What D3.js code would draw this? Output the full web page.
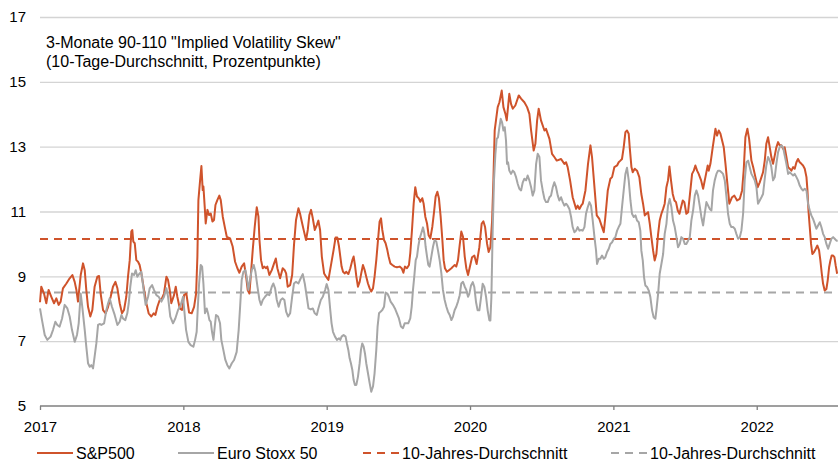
<!DOCTYPE html>
<html>
<head>
<meta charset="utf-8">
<script src="https://cdn.jsdelivr.net/npm/d3@7"></script>
<style>
  body { margin: 0; background: #fff; }
  svg { display: block; font-family: "Liberation Sans", Arial, sans-serif; }
</style>
</head>
<body>
<svg id="chart" width="838" height="463"></svg>
<script>
// time positions are decimal years, values in percentage points
const spxDates = [
  2017.000, 2017.009, 2017.028, 2017.044, 2017.060, 2017.079, 2017.098, 2017.114, 2017.130, 2017.144,
  2017.160, 2017.184, 2017.207, 2017.226, 2017.242, 2017.254, 2017.265, 2017.284, 2017.300, 2017.312,
  2017.323, 2017.335, 2017.351, 2017.365, 2017.381, 2017.400, 2017.412, 2017.423, 2017.440, 2017.458,
  2017.475, 2017.493, 2017.509, 2017.526, 2017.540, 2017.556, 2017.572, 2017.586, 2017.602, 2017.614,
  2017.626, 2017.637, 2017.644, 2017.651, 2017.661, 2017.672, 2017.684, 2017.695, 2017.707, 2017.726,
  2017.742, 2017.758, 2017.777, 2017.793, 2017.805, 2017.819, 2017.835, 2017.851, 2017.865, 2017.882,
  2017.893, 2017.905, 2017.916, 2017.935, 2017.947, 2017.958, 2017.975, 2017.991, 2018.005, 2018.021,
  2018.040, 2018.058, 2018.075, 2018.089, 2018.098, 2018.105, 2018.117, 2018.126, 2018.135, 2018.140,
  2018.149, 2018.156, 2018.168, 2018.179, 2018.191, 2018.203, 2018.214, 2018.224, 2018.237, 2018.251,
  2018.261, 2018.275, 2018.291, 2018.303, 2018.326, 2018.344, 2018.361, 2018.377, 2018.391, 2018.407,
  2018.424, 2018.438, 2018.449, 2018.461, 2018.470, 2018.484, 2018.498, 2018.512, 2018.524, 2018.531,
  2018.542, 2018.554, 2018.565, 2018.577, 2018.586, 2018.600, 2018.617, 2018.633, 2018.645, 2018.656,
  2018.675, 2018.693, 2018.707, 2018.717, 2018.728, 2018.745, 2018.759, 2018.772, 2018.786, 2018.803,
  2018.814, 2018.826, 2018.842, 2018.856, 2018.868, 2018.879, 2018.891, 2018.903, 2018.917, 2018.931,
  2018.942, 2018.954, 2018.966, 2018.982, 2018.996, 2019.012,
  2019.032, 2019.048, 2019.062, 2019.074, 2019.086, 2019.095, 2019.104, 2019.114, 2019.125, 2019.137,
  2019.151, 2019.165, 2019.179, 2019.188, 2019.197, 2019.207, 2019.218, 2019.230, 2019.241, 2019.253,
  2019.265, 2019.276, 2019.288, 2019.300, 2019.311, 2019.323, 2019.334, 2019.346, 2019.358, 2019.369,
  2019.379, 2019.388, 2019.400, 2019.411, 2019.423, 2019.432, 2019.444, 2019.458, 2019.474, 2019.490,
  2019.509, 2019.523, 2019.535, 2019.546, 2019.560, 2019.574, 2019.583, 2019.595, 2019.607, 2019.618,
  2019.630, 2019.642, 2019.653, 2019.667, 2019.676, 2019.688, 2019.700, 2019.711, 2019.723, 2019.737,
  2019.749, 2019.760, 2019.772, 2019.783, 2019.795, 2019.807, 2019.816, 2019.825, 2019.839, 2019.853,
  2019.870, 2019.881, 2019.893, 2019.904, 2019.916, 2019.928, 2019.939, 2019.951, 2019.963, 2019.974,
  2019.986,
  2020.014, 2020.030, 2020.046, 2020.065, 2020.081, 2020.093, 2020.105, 2020.119, 2020.130, 2020.142,
  2020.154, 2020.163, 2020.172, 2020.181, 2020.193, 2020.205, 2020.221, 2020.233, 2020.247, 2020.256,
  2020.274, 2020.286, 2020.298, 2020.316, 2020.340, 2020.356, 2020.379, 2020.398, 2020.414, 2020.426,
  2020.444, 2020.456, 2020.468, 2020.479, 2020.495, 2020.519, 2020.530, 2020.554, 2020.572, 2020.588,
  2020.605, 2020.635, 2020.658, 2020.670, 2020.681, 2020.698, 2020.716, 2020.740, 2020.751, 2020.763,
  2020.775, 2020.786, 2020.805, 2020.823, 2020.840, 2020.851, 2020.868, 2020.884, 2020.902, 2020.921,
  2020.933, 2020.944, 2020.961, 2020.979, 2020.991, 2021.007,
  2021.026, 2021.037, 2021.049, 2021.060, 2021.072, 2021.084, 2021.095, 2021.107, 2021.114, 2021.126,
  2021.135, 2021.149, 2021.165, 2021.181, 2021.195, 2021.207, 2021.219, 2021.230, 2021.242, 2021.254,
  2021.265, 2021.277, 2021.288, 2021.300, 2021.312, 2021.323, 2021.335, 2021.347, 2021.358, 2021.370,
  2021.381, 2021.391, 2021.402, 2021.414, 2021.426, 2021.437, 2021.449, 2021.461, 2021.472, 2021.484,
  2021.495, 2021.509, 2021.521, 2021.537, 2021.549, 2021.561, 2021.572, 2021.584, 2021.595, 2021.612,
  2021.626, 2021.642, 2021.658, 2021.665, 2021.677, 2021.693, 2021.712, 2021.723, 2021.735, 2021.747,
  2021.770, 2021.782, 2021.793, 2021.809, 2021.828, 2021.844, 2021.863, 2021.882, 2021.898, 2021.909,
  2021.921, 2021.935, 2021.947, 2021.963, 2021.975, 2021.991, 2022.007,
  2022.021, 2022.033, 2022.044, 2022.056, 2022.067, 2022.079, 2022.091, 2022.102, 2022.114, 2022.126,
  2022.137, 2022.149, 2022.160, 2022.172, 2022.184, 2022.195, 2022.207, 2022.219, 2022.230, 2022.242,
  2022.254, 2022.265, 2022.277, 2022.288, 2022.300, 2022.312, 2022.323, 2022.335, 2022.347, 2022.354,
  2022.361, 2022.370, 2022.379, 2022.388, 2022.400, 2022.412, 2022.423, 2022.435, 2022.444, 2022.454,
  2022.463, 2022.474, 2022.486, 2022.495, 2022.505, 2022.514, 2022.523, 2022.533, 2022.542, 2022.551,
  2022.561
];
const spxValues = [
  8.20, 8.68, 8.47, 8.17, 8.58, 8.37, 8.17, 8.32, 8.12, 8.22,
  8.63, 8.78, 8.94, 9.04, 8.83, 8.58, 8.22, 9.04, 9.40, 9.19,
  8.58, 8.06, 7.76, 7.96, 8.68, 8.99, 9.01, 8.47, 7.96, 7.86,
  8.06, 8.37, 8.68, 8.83, 8.63, 8.17, 7.86, 7.96, 8.37, 8.99,
  9.50, 10.38, 10.43, 10.07, 10.02, 9.50, 9.45, 9.35, 9.09, 8.58,
  8.17, 7.86, 7.76, 7.86, 7.81, 8.06, 8.27, 8.32, 8.47, 8.99,
  8.89, 8.58, 8.17, 8.42, 8.68, 8.37, 8.01, 7.96, 8.42, 8.47,
  7.88, 7.86, 8.06, 8.47, 9.61, 11.35, 11.97, 12.40, 11.66, 11.77,
  11.15, 10.63, 11.05, 10.89, 10.94, 10.69, 10.74, 11.20, 11.35, 11.49,
  11.35, 10.84, 10.48, 10.22, 10.17, 9.92, 9.45, 9.25, 9.11, 9.30,
  9.40, 8.99, 8.58, 8.47, 8.99, 9.81, 10.53, 11.13, 10.84, 10.12,
  9.50, 9.25, 9.30, 9.25, 9.30, 9.04, 9.19, 9.40, 9.55, 9.25,
  8.94, 9.25, 9.19, 9.09, 8.68, 8.73, 9.04, 9.97, 10.74, 11.10,
  10.94, 10.69, 10.38, 10.12, 10.43, 10.89, 11.05, 10.79, 10.43, 10.58,
  10.72, 10.43, 9.61, 9.09, 8.99, 8.89,
  9.40, 9.81, 10.20, 10.20, 9.92, 9.61, 9.30, 9.14, 9.09, 9.14,
  9.07, 9.25, 9.50, 9.61, 9.35, 8.99, 8.68, 8.83, 9.09, 9.35,
  9.19, 8.99, 8.78, 8.63, 8.53, 8.63, 8.99, 9.50, 10.12, 10.69,
  10.79, 10.43, 10.12, 10.02, 9.81, 9.61, 9.40, 9.35, 9.30, 9.28,
  9.30, 9.25, 9.11, 9.30, 9.25, 9.35, 9.71, 10.43, 11.25, 11.75,
  11.46, 11.41, 11.30, 11.41, 11.25, 10.84, 10.63, 10.27, 10.17, 10.53,
  10.99, 11.46, 11.61, 11.41, 10.84, 10.12, 9.50, 9.25, 9.14, 9.19,
  9.25, 9.30, 9.35, 9.30, 9.50, 9.97, 10.38, 10.22, 9.61, 9.25,
  9.04,
  9.59, 9.64, 9.38, 9.90, 10.62, 10.70, 10.52, 10.00, 9.75, 9.90,
  10.72, 11.96, 13.50, 13.81, 14.22, 14.37, 14.73, 14.22, 14.01, 13.81,
  14.63, 14.32, 14.17, 14.27, 14.58, 14.48, 14.37, 14.22, 14.01, 13.50,
  12.88, 13.09, 13.81, 14.17, 13.81, 13.50, 13.55, 13.24, 12.78, 12.68,
  12.57, 12.62, 12.47, 12.52, 12.37, 11.96, 11.44, 11.08, 11.18, 11.08,
  11.18, 11.24, 11.65, 12.47, 13.04, 12.68, 11.75, 10.88, 10.77, 10.52,
  10.36, 10.83, 11.65, 12.01, 12.06, 12.37,
  12.42, 12.52, 12.57, 12.62, 12.98, 13.45, 13.50, 13.40, 12.98, 12.37,
  12.21, 12.32, 12.26, 12.06, 11.54, 11.24, 10.88, 10.93, 10.98, 10.62,
  10.21, 9.80, 9.49, 9.69, 10.31, 10.72, 10.93, 11.08, 11.24, 11.75,
  11.96, 12.39, 11.96, 11.54, 11.34, 11.29, 11.03, 10.93, 11.13, 11.34,
  11.29, 10.93, 10.98, 11.65, 12.16, 12.26, 12.42, 12.26, 12.16, 11.96,
  11.70, 12.06, 12.42, 12.26, 12.47, 12.98, 13.55, 13.34, 13.50, 13.40,
  12.98, 12.47, 11.96, 11.24, 11.44, 11.49, 11.34, 11.39, 11.65, 12.26,
  13.29, 13.55, 13.24, 12.57, 12.37, 12.06, 11.75,
  11.90, 12.06, 12.21, 12.57, 13.09, 13.29, 12.98, 12.68, 12.47, 12.73,
  12.98, 13.14, 13.04, 13.04, 12.93, 12.98, 12.68, 12.37, 12.32, 12.26,
  12.37, 12.32, 12.52, 12.62, 12.52, 12.47, 12.42, 12.32, 12.06, 11.65,
  11.03, 10.52, 10.00, 9.69, 9.75, 9.85, 9.95, 9.80, 9.49, 9.08,
  8.77, 8.56, 8.61, 8.87, 9.28, 9.49, 9.64, 9.64, 9.59, 9.33,
  9.08
];

const stoxxDates = [
  2017.000, 2017.014, 2017.033, 2017.051, 2017.074, 2017.091, 2017.107, 2017.121, 2017.137, 2017.154,
  2017.172, 2017.191, 2017.207, 2017.223, 2017.242, 2017.258, 2017.270, 2017.284, 2017.295, 2017.312,
  2017.323, 2017.335, 2017.347, 2017.358, 2017.370, 2017.381, 2017.393, 2017.405, 2017.416, 2017.428,
  2017.447, 2017.463, 2017.475, 2017.486, 2017.502, 2017.521, 2017.540, 2017.556, 2017.568, 2017.579,
  2017.595, 2017.609, 2017.619, 2017.630, 2017.642, 2017.656, 2017.668, 2017.679, 2017.695, 2017.707,
  2017.714, 2017.726, 2017.737, 2017.754, 2017.765, 2017.782, 2017.795, 2017.812, 2017.828, 2017.847,
  2017.865, 2017.882, 2017.893, 2017.909, 2017.928, 2017.944, 2017.963, 2017.982, 2017.998,
  2018.019, 2018.035, 2018.051, 2018.070, 2018.082, 2018.093, 2018.100, 2018.110, 2018.121, 2018.131,
  2018.140, 2018.151, 2018.163, 2018.172, 2018.182, 2018.191, 2018.200, 2018.210, 2018.219, 2018.228,
  2018.242, 2018.256, 2018.265, 2018.279, 2018.293, 2018.307, 2018.321, 2018.338, 2018.354, 2018.372,
  2018.386, 2018.396, 2018.407, 2018.419, 2018.433, 2018.442, 2018.454, 2018.465, 2018.477, 2018.491,
  2018.503, 2018.517, 2018.531, 2018.542, 2018.554, 2018.570, 2018.586, 2018.600, 2018.617, 2018.628,
  2018.640, 2018.652, 2018.665, 2018.679, 2018.693, 2018.705, 2018.717, 2018.731, 2018.745, 2018.759,
  2018.772, 2018.786, 2018.803, 2018.819, 2018.833, 2018.847, 2018.861, 2018.873, 2018.889, 2018.903,
  2018.917, 2018.931, 2018.942, 2018.959, 2018.973, 2018.989, 2019.000, 2019.012,
  2019.025, 2019.034, 2019.044, 2019.058, 2019.072, 2019.086, 2019.095, 2019.104, 2019.118, 2019.132,
  2019.141, 2019.151, 2019.160, 2019.169, 2019.179, 2019.188, 2019.197, 2019.207, 2019.218, 2019.230,
  2019.239, 2019.248, 2019.258, 2019.267, 2019.276, 2019.288, 2019.300, 2019.311, 2019.323, 2019.334,
  2019.346, 2019.355, 2019.365, 2019.376, 2019.388, 2019.400, 2019.411, 2019.423, 2019.434, 2019.446,
  2019.462, 2019.476, 2019.490, 2019.504, 2019.518, 2019.532, 2019.544, 2019.556, 2019.569, 2019.583,
  2019.593, 2019.602, 2019.611, 2019.621, 2019.630, 2019.639, 2019.649, 2019.660, 2019.672, 2019.681,
  2019.690, 2019.700, 2019.709, 2019.718, 2019.730, 2019.742, 2019.753, 2019.765, 2019.776, 2019.788,
  2019.800, 2019.811, 2019.823, 2019.835, 2019.846, 2019.858, 2019.870, 2019.881, 2019.893, 2019.904,
  2019.916, 2019.928, 2019.939, 2019.951, 2019.963, 2019.974, 2019.986,
  2019.995, 2020.007, 2020.019, 2020.030, 2020.042, 2020.053, 2020.065, 2020.077, 2020.088, 2020.100,
  2020.112, 2020.123, 2020.135, 2020.142, 2020.149, 2020.158, 2020.167, 2020.177, 2020.186, 2020.195,
  2020.205, 2020.214, 2020.223, 2020.233, 2020.242, 2020.251, 2020.258, 2020.265, 2020.274, 2020.286,
  2020.298, 2020.309, 2020.321, 2020.333, 2020.344, 2020.356, 2020.368, 2020.379, 2020.391, 2020.402,
  2020.414, 2020.426, 2020.437, 2020.449, 2020.461, 2020.472, 2020.484, 2020.495, 2020.507, 2020.519,
  2020.530, 2020.542, 2020.554, 2020.565, 2020.577, 2020.588, 2020.600, 2020.612, 2020.623, 2020.635,
  2020.647, 2020.658, 2020.670, 2020.681, 2020.693, 2020.705, 2020.716, 2020.728, 2020.740, 2020.751,
  2020.763, 2020.775, 2020.786, 2020.798, 2020.809, 2020.821, 2020.833, 2020.844, 2020.856, 2020.868,
  2020.879, 2020.886, 2020.898, 2020.909, 2020.921, 2020.933, 2020.944, 2020.956, 2020.968, 2020.979,
  2020.991, 2021.003, 2021.014,
  2021.026, 2021.037, 2021.049, 2021.060, 2021.072, 2021.084, 2021.095, 2021.107, 2021.119, 2021.130,
  2021.142, 2021.154, 2021.165, 2021.177, 2021.188, 2021.195, 2021.205, 2021.214, 2021.223, 2021.235,
  2021.247, 2021.258, 2021.270, 2021.281, 2021.293, 2021.300, 2021.312, 2021.323, 2021.335, 2021.347,
  2021.358, 2021.370, 2021.381, 2021.393, 2021.405, 2021.416, 2021.428, 2021.440, 2021.451, 2021.463,
  2021.474, 2021.486, 2021.498, 2021.509, 2021.521, 2021.533, 2021.544, 2021.556, 2021.568, 2021.579,
  2021.591, 2021.602, 2021.614, 2021.626, 2021.637, 2021.649, 2021.661, 2021.672, 2021.684, 2021.695,
  2021.707, 2021.719, 2021.730, 2021.742, 2021.754, 2021.765, 2021.777, 2021.789, 2021.800, 2021.812,
  2021.823, 2021.835, 2021.847, 2021.858, 2021.870, 2021.882, 2021.893, 2021.905, 2021.916, 2021.928,
  2021.940, 2021.951, 2021.963, 2021.975, 2021.986, 2021.998, 2022.009,
  2022.021, 2022.033, 2022.044, 2022.056, 2022.067, 2022.079, 2022.091, 2022.102, 2022.114, 2022.126,
  2022.137, 2022.149, 2022.160, 2022.172, 2022.184, 2022.195, 2022.207, 2022.219, 2022.230, 2022.242,
  2022.254, 2022.265, 2022.277, 2022.288, 2022.300, 2022.312, 2022.323, 2022.335, 2022.347, 2022.358,
  2022.370, 2022.381, 2022.393, 2022.405, 2022.416, 2022.428, 2022.440, 2022.451, 2022.463, 2022.474,
  2022.486, 2022.498, 2022.509, 2022.521, 2022.533, 2022.544, 2022.556, 2022.565
];
const stoxxValues = [
  8.01, 7.65, 7.19, 7.04, 7.14, 7.35, 7.60, 7.50, 7.45, 7.70,
  8.12, 8.01, 7.76, 7.35, 6.98, 7.19, 7.55, 8.47, 8.06, 7.35,
  6.83, 6.32, 6.21, 6.26, 6.16, 6.52, 6.93, 7.50, 7.53, 7.50,
  7.55, 7.96, 8.17, 8.32, 8.06, 7.81, 7.50, 7.60, 7.81, 7.70,
  7.65, 7.86, 8.17, 8.68, 9.09, 9.04, 9.19, 8.99, 9.09, 9.14,
  8.89, 8.47, 8.12, 8.37, 8.63, 8.73, 8.58, 8.42, 8.37, 8.22,
  8.37, 8.63, 8.37, 7.76, 7.55, 7.70, 7.96, 8.12, 8.37,
  7.35, 6.98, 6.88, 6.83, 7.04, 7.29, 7.96, 8.78, 9.35, 9.30,
  8.78, 7.86, 8.01, 7.86, 7.65, 7.60, 7.29, 7.04, 7.45, 7.81,
  7.76, 7.55, 7.04, 6.73, 6.42, 6.26, 6.16, 6.32, 6.42, 6.67,
  7.35, 8.06, 8.89, 9.14, 9.19, 8.99, 8.58, 8.89, 9.19, 9.35,
  9.14, 8.68, 8.27, 8.12, 8.27, 8.37, 8.45, 8.42, 8.68, 8.78,
  8.63, 8.27, 8.06, 8.27, 8.32, 8.27, 7.91, 7.76, 7.86, 8.37,
  8.78, 8.83, 8.78, 8.94, 9.07, 8.78, 8.37, 8.01, 7.98, 8.01,
  7.86, 7.81, 8.01, 8.27, 8.37, 8.58, 8.76, 8.58,
  7.96, 7.55, 7.29, 7.14, 7.04, 7.09, 7.04, 7.14, 7.19, 7.14,
  6.93, 6.73, 6.47, 6.32, 6.11, 5.80, 5.65, 5.65, 5.90, 6.32,
  6.73, 6.93, 6.83, 6.62, 6.32, 6.01, 5.70, 5.44, 5.60, 6.01,
  6.73, 7.45, 7.86, 7.91, 7.96, 8.06, 8.50, 8.47, 8.37, 8.22,
  8.12, 8.01, 7.86, 7.70, 7.45, 7.40, 7.55, 7.55, 7.55, 7.70,
  8.06, 8.58, 8.99, 9.50, 9.61, 9.92, 10.17, 10.33, 10.51, 10.33,
  9.92, 9.61, 9.35, 9.30, 9.61, 9.92, 10.12, 10.07, 9.81, 9.50,
  9.09, 8.58, 8.27, 8.06, 7.91, 7.81, 7.65, 7.76, 7.96, 8.06,
  8.22, 8.42, 8.78, 8.83, 8.68, 8.58, 8.37,
  8.46, 8.72, 8.82, 8.67, 8.20, 7.95, 7.95, 8.36, 8.77, 8.67,
  8.36, 7.95, 7.64, 7.64, 8.36, 10.41, 11.96, 12.78, 13.24, 13.29,
  13.60, 13.86, 13.76, 13.50, 13.60, 13.19, 12.47, 12.52, 12.26, 12.16,
  12.26, 12.21, 12.06, 11.85, 11.70, 11.65, 11.90, 12.01, 11.96, 12.11,
  11.96, 11.75, 11.49, 11.65, 12.47, 12.78, 12.68, 11.96, 11.65, 11.39,
  11.29, 11.29, 11.44, 11.49, 11.75, 11.90, 11.75, 11.49, 11.34, 11.44,
  11.29, 11.18, 11.24, 11.18, 11.08, 10.83, 10.52, 10.36, 10.41, 10.52,
  10.41, 10.43, 10.41, 10.52, 10.93, 11.13, 11.29, 11.18, 10.72, 10.21,
  9.80, 9.38, 9.54, 9.54, 9.64, 9.54, 9.59, 9.75, 9.85, 10.00,
  10.05, 10.16, 10.21,
  10.41, 10.52, 10.62, 11.13, 11.65, 12.16, 12.35, 11.96, 11.34, 10.93,
  10.83, 10.88, 10.72, 10.67, 10.41, 9.80, 9.49, 8.97, 8.72, 8.67,
  8.56, 8.36, 7.95, 7.74, 7.69, 7.95, 8.46, 9.08, 9.38, 9.69,
  10.31, 10.62, 11.18, 11.39, 11.13, 10.72, 10.52, 10.21, 9.90, 10.00,
  10.21, 10.16, 10.00, 10.00, 10.10, 10.21, 10.72, 11.03, 11.49, 11.65,
  11.49, 11.18, 10.83, 10.57, 10.93, 11.29, 11.18, 11.08, 11.03, 11.65,
  11.96, 12.16, 12.26, 12.26, 12.21, 12.16, 11.96, 11.44, 10.93, 10.62,
  10.52, 10.52, 10.47, 10.31, 10.16, 10.21, 10.41, 10.93, 11.96, 12.52,
  12.57, 12.37, 12.16, 12.06, 11.96, 11.75, 11.24,
  11.34, 11.44, 11.54, 12.01, 12.42, 12.68, 12.57, 12.37, 11.96, 12.06,
  12.47, 12.83, 12.98, 13.04, 12.98, 12.73, 12.47, 12.16, 12.21, 12.16,
  12.11, 12.16, 12.06, 11.96, 11.80, 11.70, 11.65, 11.70, 11.65, 11.24,
  11.03, 10.88, 10.77, 10.62, 10.47, 10.57, 10.67, 10.52, 10.31, 10.21,
  10.00, 9.85, 10.00, 10.16, 10.21, 10.16, 10.10, 10.10
];

const spxAverage = 10.15;
const stoxxAverage = 8.5;

const yearTicks = [2017, 2018, 2019, 2020, 2021, 2022];
const valueTicks = [5, 7, 9, 11, 13, 15, 17];
const titleLines = ['3-Monate 90-110 "Implied Volatility Skew"', '(10-Tage-Durchschnitt, Prozentpunkte)'];
const legendLabels = ['S&P500', 'Euro Stoxx 50', '10-Jahres-Durchschnitt', '10-Jahres-Durchschnitt'];

const orange = '#CF532B';
const grey = '#A6A6A6';

const svg = d3.select('#chart');

const x = d3.scaleLinear().domain([2017, 2022.567]).range([40, 838]);
const y = d3.scaleLinear().domain([5, 17]).range([406, 17]);

// horizontal grid + value labels
const yAxis = svg.append('g')
  .attr('transform', 'translate(40,0)')
  .call(d3.axisLeft(y).tickValues(valueTicks).tickSize(-798).tickPadding(14).tickFormat(d3.format('d')));
yAxis.select('.domain').remove();
yAxis.selectAll('line').attr('stroke', '#D4D4D4').attr('stroke-width', 1.3)
  .filter((d) => d === 5).remove();
yAxis.selectAll('text').attr('fill', '#000').style('font-size', '15px')
  .attr('font-family', null);

// title
svg.append('g').selectAll('text').data(titleLines).join('text')
  .attr('x', 46)
  .attr('y', (d, i) => 48 + i * 19)
  .style('font-size', '16px')
  .attr('fill', '#000')
  .text((d) => d);

// average lines
svg.append('line')
  .attr('x1', x(2017)).attr('x2', x(2022.567))
  .attr('y1', y(spxAverage)).attr('y2', y(spxAverage))
  .attr('stroke', orange).attr('stroke-width', 2).attr('stroke-dasharray', '8,6');
svg.append('line')
  .attr('x1', x(2017)).attr('x2', x(2022.567))
  .attr('y1', y(stoxxAverage)).attr('y2', y(stoxxAverage))
  .attr('stroke', grey).attr('stroke-width', 2).attr('stroke-dasharray', '8,6');

const line = d3.line().x((d) => x(d[0])).y((d) => y(d[1]));
const spx = spxDates.map((d, i) => [d, spxValues[i]]);
const stoxx = stoxxDates.map((d, i) => [d, stoxxValues[i]]);

svg.append('path').datum(spx)
  .attr('fill', 'none').attr('stroke', orange).attr('stroke-width', 2)
  .attr('stroke-linejoin', 'round')
  .attr('d', line);
svg.append('path').datum(stoxx)
  .attr('fill', 'none').attr('stroke', grey).attr('stroke-width', 2)
  .attr('stroke-linejoin', 'round')
  .attr('d', line);

// time axis
const xAxis = svg.append('g')
  .attr('transform', 'translate(0,406)')
  .call(d3.axisBottom(x).tickValues(yearTicks).tickSize(4).tickPadding(11).tickFormat(d3.format('d')));
xAxis.select('.domain').attr('stroke', '#7F7F7F').attr('stroke-width', 1.5)
  .attr('d', 'M40,0H838');
xAxis.selectAll('line').attr('stroke', '#7F7F7F').attr('stroke-width', 1.3);
xAxis.selectAll('text').attr('fill', '#000').style('font-size', '15px')
  .attr('font-family', null);

// legend
const legendX = [37, 178, 363, 611];
const legendColor = [orange, grey, orange, grey];
const legendDash = [null, null, '8,6', '8,6'];
const legend = svg.append('g').selectAll('g').data(legendLabels).join('g')
  .attr('transform', (d, i) => `translate(${legendX[i]},453)`);
legend.append('line')
  .attr('x1', 0).attr('x2', 36)
  .attr('stroke', (d, i) => legendColor[i])
  .attr('stroke-width', 2)
  .attr('stroke-dasharray', (d, i) => legendDash[i]);
legend.append('text')
  .attr('x', 39).attr('y', 5.5)
  .style('font-size', '16px')
  .attr('fill', '#000')
  .text((d) => d);
</script>
</body>
</html>
